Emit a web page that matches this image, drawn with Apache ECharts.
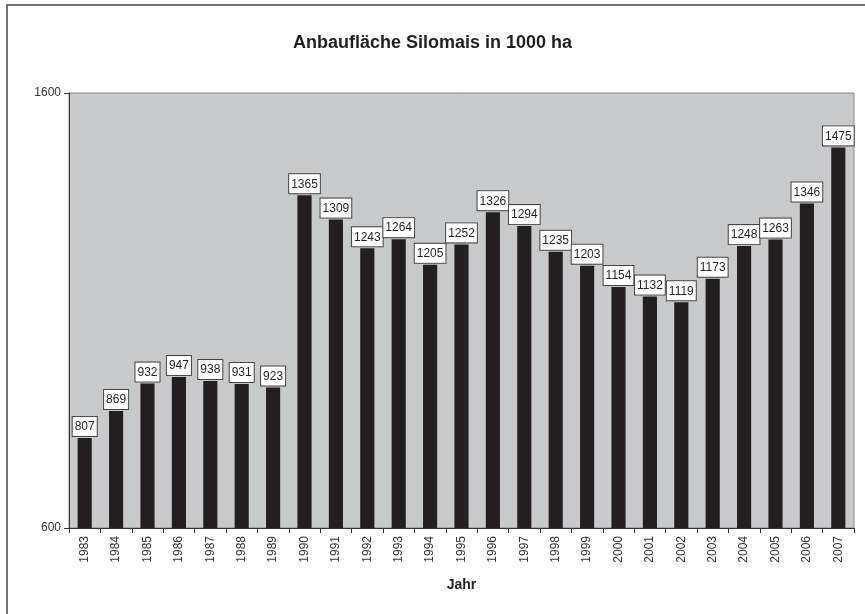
<!DOCTYPE html>
<html>
<head>
<meta charset="utf-8">
<script src="https://cdn.jsdelivr.net/npm/echarts@6/dist/echarts.min.js"></script>
<style>
  html, body { margin: 0; padding: 0; background: #fff; }
  #chart { width: 865px; height: 614px; }
</style>
</head>
<body>
<div id="chart"></div>
<script>
var years = ["1983", "1984", "1985", "1986", "1987", "1988", "1989", "1990", "1991", "1992",
  "1993", "1994", "1995", "1996", "1997", "1998", "1999", "2000", "2001", "2002",
  "2003", "2004", "2005", "2006", "2007"];
var area = [807, 869, 932, 947, 938, 931, 923, 1365, 1309, 1243,
  1264, 1205, 1252, 1326, 1294, 1235, 1203, 1154, 1132, 1119,
  1173, 1248, 1263, 1346, 1475];

var chart = echarts.init(document.getElementById("chart"));
var option = {
  animation: false,
  backgroundColor: "#fff",
  title: {
    text: "Anbaufläche Silomais in 1000 ha",
    left: "center",
    top: 29,
    textStyle: { fontFamily: "Liberation Sans", fontSize: 18, fontWeight: "bold", color: "#231f20" }
  },
  graphic: [{
    type: "rect",
    shape: { x: 7, y: 5, width: 870, height: 620 },
    style: { fill: "none", stroke: "#444", lineWidth: 1.5 },
    silent: true
  }],
  grid: { left: 69, top: 93, width: 785, height: 435, show: true, backgroundColor: "#c8c9ca", borderColor: "#8a8a8a", borderWidth: 1 },
  xAxis: {
    type: "category",
    data: years,
    name: "Jahr",
    nameLocation: "middle",
    nameGap: 50,
    nameTextStyle: { fontFamily: "Liberation Sans", fontSize: 14, fontWeight: "bold", color: "#231f20" },
    axisLine: { lineStyle: { color: "#333", width: 1 } },
    axisTick: { show: true, alignWithLabel: false, length: 5, lineStyle: { color: "#333" } },
    axisLabel: { rotate: 90, fontFamily: "Liberation Sans", fontSize: 12, color: "#333", margin: 8 }
  },
  yAxis: {
    type: "value",
    min: 600,
    max: 1600,
    interval: 1000,
    axisLine: { show: true, lineStyle: { color: "#333", width: 1 } },
    axisTick: { show: true, length: 5, lineStyle: { color: "#333" } },
    splitLine: { show: false },
    axisLabel: { fontFamily: "Liberation Sans", fontSize: 12, color: "#333", margin: 8, formatter: function (v) { return String(v); } }
  },
  series: [{
    type: "bar",
    data: area,
    barWidth: "45%",
    itemStyle: { color: "#231f20" },
    label: {
      show: true,
      position: "top",
      distance: 2,
      fontFamily: "Liberation Sans",
      fontSize: 12,
      color: "#231f20",
      backgroundColor: "#fff",
      borderColor: "#444",
      borderWidth: 1,
      padding: [4, 2, 3, 2]
    }
  }]
};
chart.setOption(option);
</script>
</body>
</html>
